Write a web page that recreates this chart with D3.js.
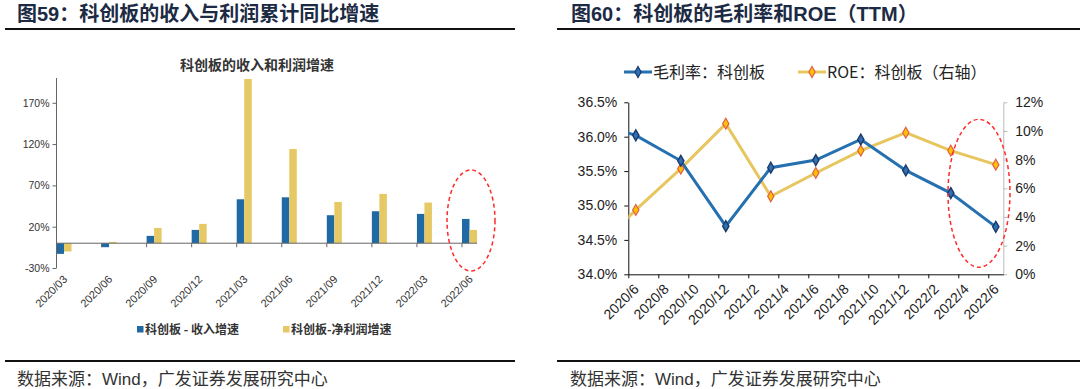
<!DOCTYPE html>
<meta charset="utf-8">
<style>
body { margin: 0; background: #fff; }
svg { display: block; font-family: "Liberation Sans", Arial, "Noto Sans CJK SC", sans-serif; }
.head { font-family: "Liberation Sans", "Noto Sans CJK SC", sans-serif; font-weight: bold; font-size: 20px; fill: #1c2a44; }
.src { font-family: "Liberation Sans", "Noto Sans CJK SC", sans-serif; font-size: 17px; fill: #333; }
.rule { stroke: #111; stroke-width: 2px; }
.axL text { font-size: 10.5px; fill: #333; }
.axL path, .axL line { stroke: #666; }
.axR text { font-size: 14px; fill: #222; }
.cjk { font-family: "Noto Sans CJK SC", sans-serif; }
.ellipse { fill: none; stroke: #ff2a2a; stroke-width: 1.5px; stroke-dasharray: 4 3; }
</style>
<svg width="1080" height="389"></svg>
<script src="https://cdn.jsdelivr.net/npm/d3@7"></script>
<script>

// ---- figure 59: revenue / net profit growth (quarterly, %)
var quarters = ["2020/03", "2020/06", "2020/09", "2020/12", "2021/03", "2021/06", "2021/09", "2021/12", "2022/03", "2022/06"];
var revenueGrowth = [-12.9, -4.8, 8.9, 16.1, 53.2, 55.6, 33.9, 38.7, 35.5, 29.4];
var profitGrowth = [-10.0, 1.6, 18.5, 23.4, 198.8, 114.0, 50.0, 59.7, 49.2, 16.1];
var leftTicks = [-30, 20, 70, 120, 170];

// ---- figure 60: gross margin (left axis) and ROE TTM (right axis)
var monthLabels = ["2020/6", "2020/8", "2020/10", "2020/12", "2021/2", "2021/4", "2021/6", "2021/8", "2021/10", "2021/12", "2022/2", "2022/4", "2022/6"];
var pointDates = ["2020/3", "2020/6", "2020/9", "2020/12", "2021/3", "2021/6", "2021/9", "2021/12", "2022/3", "2022/6"];
var grossMargin = [36.21, 36.02, 35.65, 34.70, 35.55, 35.66, 35.96, 35.51, 35.18, 34.69];
var roe = [1.35, 4.49, 7.37, 10.51, 5.44, 7.07, 8.63, 9.88, 8.63, 7.65];
var marginTicks = [34.0, 34.5, 35.0, 35.5, 36.0, 36.5];
var roeTicks = [0, 2, 4, 6, 8, 10, 12];

var svg = d3.select("svg");

// months since y0/m0 for "yyyy/m" strings
function monthIndex(s, y0, m0) {
  var p = s.split("/");
  return (+p[0] - y0) * 12 + (+p[1] - m0);
}

// ---------- page frame: headers, rules, sources
svg.append("text").attr("class", "head").attr("x", 17).attr("y", 21).text("图59：科创板的收入与利润累计同比增速");
svg.append("text").attr("class", "head").attr("x", 571).attr("y", 21).text("图60：科创板的毛利率和ROE（TTM）");
svg.append("line").attr("class", "rule").attr("x1", 5).attr("x2", 515).attr("y1", 29).attr("y2", 29);
svg.append("line").attr("class", "rule").attr("x1", 557).attr("x2", 1080).attr("y1", 29).attr("y2", 29);
svg.append("line").attr("class", "rule").attr("x1", 5).attr("x2", 515).attr("y1", 361).attr("y2", 361);
svg.append("line").attr("class", "rule").attr("x1", 557).attr("x2", 1080).attr("y1", 361).attr("y2", 361);
svg.append("text").attr("class", "src").attr("x", 17).attr("y", 385).text("数据来源：Wind，广发证券发展研究中心");
svg.append("text").attr("class", "src").attr("x", 570).attr("y", 385).text("数据来源：Wind，广发证券发展研究中心");

// ---------- left chart
var blue = "#1f6aa5", gold = "#e6c965";

// date axis, one slot per month, quarters every 3 slots
var xL = d3.scaleLinear().domain([0, 28]).range([56.5, 477]);
var yL = d3.scaleLinear().domain([-30, 200]).range([268, 78]);

var left = svg.append("g");

left.append("text").attr("class", "cjk")
    .attr("x", 257).attr("y", 70).attr("text-anchor", "middle")
    .style("font-size", "14px").style("font-weight", "bold").style("fill", "#333")
    .text("科创板的收入和利润增速");

left.selectAll(".rev").data(revenueGrowth).enter().append("rect")
    .attr("x", function(d, i) { return xL(3 * i); })
    .attr("width", xL(0.5) - xL(0))
    .attr("y", function(d) { return yL(Math.max(0, d)); })
    .attr("height", function(d) { return Math.abs(yL(d) - yL(0)); })
    .attr("fill", blue);

left.selectAll(".pro").data(profitGrowth).enter().append("rect")
    .attr("x", function(d, i) { return xL(3 * i + 0.5); })
    .attr("width", xL(0.5) - xL(0))
    .attr("y", function(d) { return yL(Math.max(0, d)); })
    .attr("height", function(d) { return Math.abs(yL(d) - yL(0)); })
    .attr("fill", gold);

left.append("g").attr("class", "axL")
    .attr("transform", "translate(" + xL(0) + ",0)")
    .call(d3.axisLeft(yL).tickValues(leftTicks).tickSize(4).tickSizeOuter(0).tickFormat(function(d) { return d + "%"; }))
    .call(function(g) { g.select(".domain").attr("d", "M0," + yL(200) + "V" + yL(-30)); });

// zero line with quarter ticks
var zero = left.append("g").attr("class", "axL");
zero.append("line").attr("x1", xL(0)).attr("x2", xL(28)).attr("y1", yL(0)).attr("y2", yL(0)).attr("stroke", "#555");
zero.selectAll(".tk").data(d3.range(1, quarters.length)).enter().append("line")
    .attr("x1", function(i) { return xL(3 * i); }).attr("x2", function(i) { return xL(3 * i); })
    .attr("y1", yL(0)).attr("y2", yL(0) + 4).attr("stroke", "#555");

left.selectAll(".xl").data(quarters).enter().append("text")
    .attr("transform", function(d, i) { return "translate(" + (xL(3 * i + 0.5) + 4) + "," + 280 + ") rotate(-45)"; })
    .attr("text-anchor", "end")
    .style("font-size", "11px").style("fill", "#333")
    .text(function(d) { return d; });

var legL = left.append("g").attr("class", "cjk").style("font-size", "12px").style("font-weight", "bold").style("fill", "#333");
[["科创板 - 收入增速", blue, 137], ["科创板-净利润增速", gold, 283]].forEach(function(it) {
  legL.append("rect").attr("x", it[2]).attr("y", 326).attr("width", 6.5).attr("height", 6.5).attr("fill", it[1]);
  legL.append("text").attr("x", it[2] + 8).attr("y", 334).text(it[0]);
});

left.append("ellipse").attr("class", "ellipse").attr("cx", 471).attr("cy", 220.5).attr("rx", 24).attr("ry", 50.5);

// ---------- right chart
var lineBlue = "#2570b0", lineGold = "#e7c660";
var px0 = 628.3, px1 = 1003.3, pTop = 102.3, pBottom = 274.3;
var xR = d3.scaleLinear().domain([0, 25]).range([px0, px1]);
var yM = d3.scaleLinear().domain([34, 36.5]).range([pBottom, pTop]);
var yR = d3.scaleLinear().domain([0, 12]).range([pBottom, pTop]);

var right = svg.append("g");

right.append("defs").append("clipPath").attr("id", "plot")
  .append("rect").attr("x", px0).attr("y", pTop - 10).attr("width", px1 - px0).attr("height", pBottom - pTop + 10);

right.append("g").attr("class", "axR")
    .attr("transform", "translate(" + px0 + ",0)")
    .call(d3.axisLeft(yM).tickValues(marginTicks).tickSize(4).tickSizeOuter(0).tickPadding(7).tickFormat(function(d) { return d3.format(".1f")(d) + "%"; }))
    .call(function(g) { g.selectAll("path, line").attr("stroke", "#111"); });

right.append("g").attr("class", "axR")
    .attr("transform", "translate(" + px1 + ",0)")
    .call(d3.axisRight(yR).tickValues(roeTicks).tickSize(4).tickSizeOuter(0).tickPadding(8).tickFormat(function(d) { return d + "%"; }))
    .call(function(g) { g.selectAll("path, line").attr("stroke", "#bbb"); });

right.append("g").attr("class", "axR")
    .attr("transform", "translate(0," + pBottom + ")")
    .call(d3.axisBottom(xR).tickValues(d3.range(0, 26, 2)).tickSize(4).tickSizeOuter(0).tickFormat(""))
    .call(function(g) { g.selectAll("path, line").attr("stroke", "#111"); });

right.selectAll(".xr").data(monthLabels).enter().append("text")
    .attr("transform", function(d) { return "translate(" + (xR(monthIndex(d, 2020, 6) + 0.5) + 4) + "," + 290 + ") rotate(-45)"; })
    .attr("text-anchor", "end")
    .style("font-size", "14px").style("fill", "#222")
    .text(function(d) { return d; });

var pts = pointDates.map(function(d, i) {
  return { x: xR(monthIndex(d, 2020, 6) + 0.5), m: grossMargin[i], r: roe[i] };
});

var diamond = d3.symbol().type(d3.symbolDiamond).size(34);
var plot = right.append("g").attr("clip-path", "url(#plot)");

plot.append("path").datum(pts)
    .attr("fill", "none").attr("stroke", lineGold).attr("stroke-width", 3)
    .attr("d", d3.line().x(function(d) { return d.x; }).y(function(d) { return yR(d.r); }));
plot.append("path").datum(pts)
    .attr("fill", "none").attr("stroke", lineBlue).attr("stroke-width", 3)
    .attr("d", d3.line().x(function(d) { return d.x; }).y(function(d) { return yM(d.m); }));

plot.selectAll(".mr").data(pts.slice(1)).enter().append("path")
    .attr("transform", function(d) { return "translate(" + d.x + "," + yR(d.r) + ")"; })
    .attr("d", diamond).attr("fill", "#ffc000").attr("stroke", "#e0604a").attr("stroke-width", 1.2);
plot.selectAll(".mm").data(pts.slice(1)).enter().append("path")
    .attr("transform", function(d) { return "translate(" + d.x + "," + yM(d.m) + ")"; })
    .attr("d", diamond).attr("fill", "#2f6fb3").attr("stroke", "#1b3a6b").attr("stroke-width", 1.4);

var legR = right.append("g").attr("class", "cjk").style("font-size", "16px").style("fill", "#222");
[["毛利率：科创板", lineBlue, "#2f6fb3", "#1b3a6b", 624], ["ROE：科创板（右轴）", lineGold, "#ffc000", "#e0604a", 798]].forEach(function(it) {
  legR.append("line").attr("x1", it[4]).attr("x2", it[4] + 28).attr("y1", 72).attr("y2", 72).attr("stroke", it[1]).attr("stroke-width", 3);
  legR.append("path").attr("transform", "translate(" + (it[4] + 14) + ",72)").attr("d", diamond)
      .attr("fill", it[2]).attr("stroke", it[3]).attr("stroke-width", 1.2);
  legR.append("text").attr("x", it[4] + 29).attr("y", 78).text(it[0]);
});

right.append("ellipse").attr("class", "ellipse").attr("cx", 979).attr("cy", 193.3).attr("rx", 31).attr("ry", 74);

</script>
